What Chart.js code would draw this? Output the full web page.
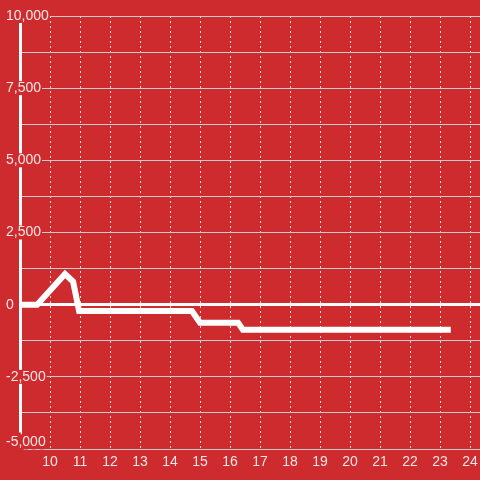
<!DOCTYPE html>
<html>
<head>
<meta charset="utf-8">
<script src="https://cdn.jsdelivr.net/npm/chart.js@4/dist/chart.umd.min.js"></script>
<style>
  html, body { margin: 0; padding: 0; background: #ce2b2f; }
  #wrap { width: 480px; height: 480px; position: relative; }
</style>
</head>
<body>
<div id="wrap"><canvas id="c"></canvas></div>
<script>
// Data
const xValues = [9, 9.57, 10.5, 10.77, 10.97, 14.73, 15.0, 16.27, 16.43, 23.36];
const yValues = [0, 0, 1060, 800, -220, -220, -625, -625, -868, -868];
const xTicks = [10, 11, 12, 13, 14, 15, 16, 17, 18, 19, 20, 21, 22, 23, 24];
const yLabelTicks = [-5000, -2500, 0, 2500, 5000, 7500, 10000];

const RED = '#ce2b2f';
const LABEL = 'rgba(255,255,255,0.88)';

const points = xValues.map((x, i) => ({ x: x, y: yValues[i] }));
const isBottom = (ctx) => ctx.tick && ctx.tick.value === -5000;

new Chart(document.getElementById('c'), {
  type: 'line',
  data: {
    datasets: [{
      data: points,
      borderColor: '#ffffff',
      borderWidth: 6,
      pointRadius: 0,
      tension: 0,
      fill: false,
      borderCapStyle: 'butt'
    }]
  },
  options: {
    responsive: true,
    maintainAspectRatio: false,
    animation: false,
    layout: { padding: { left: 6, top: 16, right: 0, bottom: 5 } },
    plugins: { legend: { display: false }, tooltip: { enabled: false } },
    scales: {
      x: {
        type: 'linear',
        min: 9,
        max: 24.333,
        afterBuildTicks: (s) => { s.ticks = xTicks.map(v => ({ value: v })); },
        afterFit: (s) => { s.paddingRight = 0; s.paddingLeft = 0; },
        grid: {
          color: 'rgba(240,240,240,0.9)',
          lineWidth: 1,
          drawTicks: false
        },
        border: { display: false, dash: [2, 3] },
        ticks: {
          color: LABEL,
          font: { size: 14, lineHeight: 1 },
          padding: 6,
          maxRotation: 0,
          autoSkip: false
        }
      },
      y: {
        type: 'linear',
        min: -5000,
        max: 10000,
        afterFit: (s) => { s.width = 14; },
        grid: {
          drawTicks: false,
          color: (ctx) => ctx.tick && ctx.tick.value === 0 ? '#ffffff' : '#cccccc',
          lineWidth: (ctx) => ctx.tick && ctx.tick.value === 0 ? 3 : 1
        },
        border: { display: true, color: '#ffffff', width: 3 },
        ticks: {
          stepSize: 1250,
          autoSkip: false,
          mirror: true,
          crossAlign: 'near',
          color: LABEL,
          font: { size: 14, lineHeight: 1 },
          padding: -14,
          showLabelBackdrop: true,
          backdropColor: (ctx) => isBottom(ctx) ? 'rgba(0,0,0,0)' : RED,
          backdropPadding: { top: 0, bottom: 0, left: 0, right: 1 },
          textStrokeColor: (ctx) => isBottom(ctx) ? RED : 'rgba(0,0,0,0)',
          textStrokeWidth: (ctx) => isBottom(ctx) ? 7 : 0,
          callback: (v) => {
            if (!yLabelTicks.includes(v)) return '';
            const s = v.toLocaleString('en-US');
            return v === -5000 ? [s, ''] : s;
          }
        }
      }
    }
  }
});
</script>
</body>
</html>
